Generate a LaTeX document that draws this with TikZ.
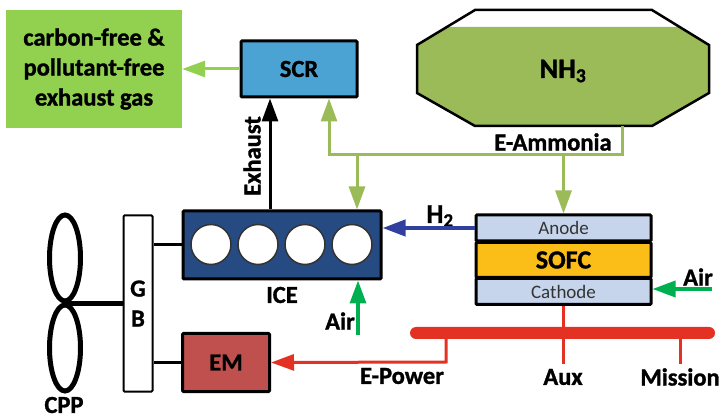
\documentclass[tikz,border=0pt]{standalone}
\usepackage{fontspec}
\setmainfont[BoldFeatures={FakeBold=1.2}]{Carlito}
\usetikzlibrary{arrows.meta,shapes.geometric}
\definecolor{gasColor}{HTML}{92D050}
\definecolor{scrColor}{HTML}{4BA3D3}
\definecolor{ammColor}{HTML}{9BBB59}
\definecolor{iceColor}{HTML}{264A82}
\definecolor{emColor}{HTML}{C0504D}
\definecolor{elecColor}{HTML}{E33224}
\definecolor{hydColor}{HTML}{2F409F}
\definecolor{airColor}{HTML}{00B050}
\definecolor{fcColor}{HTML}{C6D5EC}
\definecolor{sofcColor}{HTML}{FBBD17}
\tikzset{
	lab/.style={inner sep=0,outer sep=0,font=\fontsize{24.5}{28}\bfseries\selectfont},
	box/.style={draw,line width=3pt,rounded corners=1pt,font=\fontsize{24.5}{28}\bfseries\selectfont},
	flow/.style={-{Triangle[width=16pt,length=23pt]},line width=#1},
	flow/.default=3pt,
	cell/.style={box,minimum width=175pt},
	blade/.style={draw,ellipse,line width=5pt,minimum width=31pt,minimum height=86pt,inner sep=0}
}
\newcommand{\bigtxt}{\fontsize{28}{30}\bfseries\selectfont}
\begin{document}
\begin{tikzpicture}[x=1pt,y=-1pt]
	\useasboundingbox (0,0) rectangle (720,419);
	\node[fill=gasColor,minimum width=176pt,minimum height=118pt,align=center,inner sep=0,font=\fontsize{24.5}{30}\bfseries\selectfont] (gas) at (94, 69) {carbon-free \&\\pollutant-free\\exhaust gas};
	\node[box,fill=scrColor,minimum width=116pt,minimum height=56pt] (scr) at (299, 69) {SCR};
	% tank, filled up to the level
	\fill[ammColor] (447,27) -- (680,27) -- (709,45) -- (709,93) -- (652,126) -- (475,126) -- (417,93) -- (417,45) -- cycle;
	\draw[line width=2.5pt] (475,10) -- (652,10) -- (709,45) -- (709,93) -- (652,126) -- (475,126) -- (417,93) -- (417,45) -- cycle;
	\node[inner sep=0,minimum width=292pt,minimum height=110pt,font=\bigtxt] (tank) at (563, 71) {NH\textsubscript{3}};
	\node[box,fill=iceColor,minimum width=198pt,minimum height=68pt] (ice) at (282, 245) {};
	\foreach \i/\x in {1/211,2/258,3/305,4/352}
		\node[circle,draw=black!80,fill=white,line width=1.5pt,minimum size=40pt,inner sep=0] (cyl\i) at (\x, 244.5) {};
	\node[box,fill=white,line width=2pt,minimum width=29pt,minimum height=176pt,align=center,inner sep=0,font=\fontsize{24.5}{30}\bfseries\selectfont] (gb) at (138, 303.5) {G\\B};
	\node[box,fill=emColor,minimum width=87pt,minimum height=58pt] (em) at (226, 362.5) {EM};
	\node[cell,fill=fcColor,minimum height=26pt,font=\fontsize{19}{20}\selectfont,text=black!80] (anode) at (563.5, 228) {Anode};
	\node[cell,fill=sofcColor,minimum height=35pt,font=\fontsize{26}{28}\bfseries\selectfont] (sofc) at (563.5, 260) {SOFC};
	\node[cell,fill=fcColor,minimum height=26pt,font=\fontsize{19}{20}\selectfont,text=black!80] (cathode) at (563.5, 291.5) {Cathode};
	\node[blade] (bladeu) at (65, 258) {};
	\node[blade] (bladed) at (65, 348) {};
	\node[draw=none,fill=elecColor,rounded corners=6pt,minimum width=305pt,minimum height=12pt,inner sep=0] (bus) at (562.5, 333) {};
	% labels
	\node[lab] (lexh) at (252, 156) [rotate=90] {Exhaust};
	\node[lab] (lamm) at (553, 142) {E-Ammonia};
	\node[lab] (lice) at (282, 295) {ICE};
	\node[lab] (lcpp) at (64, 405) {CPP};
	\node[lab] (lair1) at (340, 321) {Air};
	\node[lab] (lair2) at (698, 277) {Air};
	\node[lab,font=\fontsize{27}{28}\bfseries\selectfont] (lhyd) at (440, 216) {H\textsubscript{2}};
	\node[lab] (lpow) at (402, 376) {E-Power};
	\node[lab] (laux) at (563, 377) {Aux};
	\node[lab] (lmis) at (680, 377) {Mission};
	% branch points
	\coordinate (exh) at (270, 0);
	\coordinate (amm) at (622, 155);
	\coordinate (ammscr) at (329, 155);
	\coordinate (ammice) at (357, 155);
	\coordinate (ammfc) at (563.5, 155);
	\coordinate (airin) at (358, 335);
	\coordinate (airfc) at (712, 289);
	\coordinate (powr) at (446, 362);
	\coordinate (auxend) at (563.5, 364);
	\coordinate (misend) at (680, 364);
	\draw[flow,gasColor] (scr.west) -- (gas.east);
	\draw[flow] (ice.north -| exh) -- (scr.south -| exh);
	\draw[flow,ammColor] (tank.south -| amm) -- (amm) -- (ammscr) -- (scr.south -| ammscr);
	\draw[flow,ammColor] (ammice) -- (ice.north -| ammice);
	\draw[flow,ammColor] (ammfc) -- (anode.north);
	\draw[flow=4pt,hydColor] (anode.west) -- (anode.west -| ice.east);
	\draw[flow=3.5pt,airColor] (airin) -- (ice.south -| airin);
	\draw[flow=3.5pt,airColor] (airfc) -- (cathode.east |- airfc);
	\draw[flow,elecColor] (bus.south -| powr) -- (powr) -- (em.east);
	\draw[elecColor,line width=3pt] (cathode.south) -- (auxend);
	\draw[elecColor,line width=3pt] (bus.south -| misend) -- (misend);
	\draw[line width=3pt] (ice.west) -- (ice.west -| gb.east);
	\draw[line width=3pt] (em.west) -- (em.west -| gb.east);
	\draw[line width=5pt] (bladeu.south) -- (bladeu.south -| gb.west);
\end{tikzpicture}
\end{document}
